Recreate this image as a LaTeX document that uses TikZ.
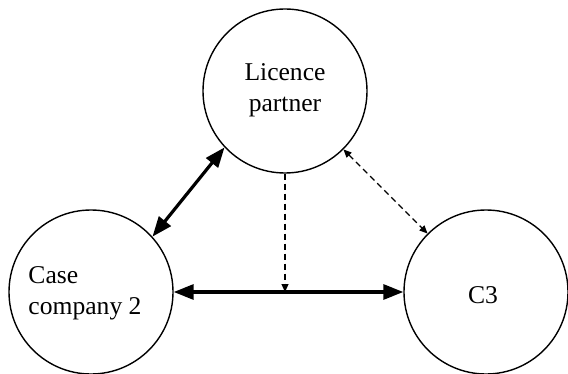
\documentclass[tikz,border=0pt]{standalone}
\usepackage{fontspec}
\setmainfont{Liberation Serif}
\usetikzlibrary{arrows.meta,positioning}

\begin{document}
\begin{tikzpicture}[x=0.5pt,y=-0.5pt,
  party/.style={circle,draw=black,line width=0.7pt,minimum size=82pt,inner sep=0pt,
    font=\fontsize{12.5}{15.5}\selectfont},
  tie/.style={{Triangle[length=10pt,width=7.5pt]}-{Triangle[length=10pt,width=7.5pt]},line width=1.6pt},
  loose/.style={{Triangle[length=4pt,width=3.5pt]}-{Triangle[length=4pt,width=3.5pt]},line width=0.6pt,
    dash pattern=on 3pt off 2pt}
]
\useasboundingbox (0,0) rectangle (568,374);
\node[party] (lic) at (285,91) {};
\node[font=\fontsize{12.8}{15.5}\selectfont,align=center] (lictext) at (285,90) {Licence\\partner};
\node[party] (case) at (91,292) {};
\node[font=\fontsize{12.8}{15.5}\selectfont,align=left] (casetext) at (85,293) {Case\\company 2};
\node[party] (cthree) at (486,292) {};
\node[font=\fontsize{12.8}{15.5}\selectfont] (cthreetext) at (483,295) {C3};
% links between the parties
\draw[tie] (lic.223) -- (case.42);
\draw[tie] (case.east) -- (cthree.west);
\draw[loose] (lic.315) -- (cthree.135);
\coordinate (hit) at (lic.south |- case.east);
\draw[-{Triangle[length=4pt,width=3.5pt]},line width=0.6pt,dash pattern=on 3pt off 2pt] (lic.south) -- (hit);
\end{tikzpicture}
\end{document}
